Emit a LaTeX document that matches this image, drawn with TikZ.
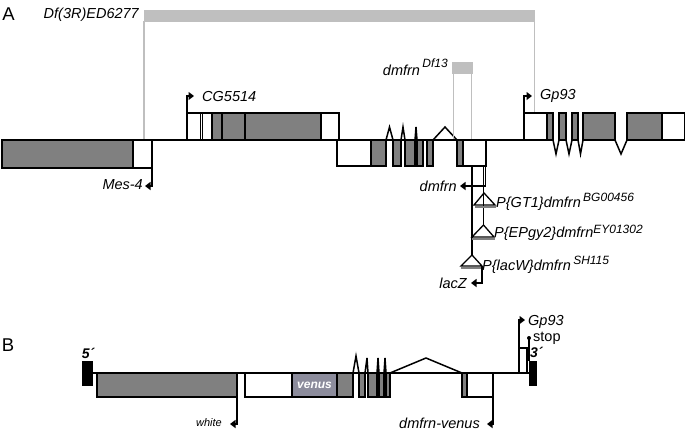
\documentclass[tikz,border=0pt]{standalone}
\usepackage{fontspec}
\setmainfont{Liberation Sans}
\usepackage{xcolor}
\usetikzlibrary{arrows.meta}
\definecolor{exongray}{HTML}{808080}
\definecolor{dfgray}{HTML}{BFBFBF}
\definecolor{venusgray}{HTML}{8C8C9C}

\begin{document}
\begin{tikzpicture}[x=1pt,y=-1pt,line join=miter,
    every node/.style={font=\itshape\fontsize{14.5}{16}\selectfont,inner sep=0pt},
    exon/.style={draw,fill=exongray,line width=1.4pt},
    utr/.style={draw,fill=white,line width=1.4pt},
    intron/.style={line width=1.5pt},
    dfline/.style={draw=dfgray,line width=1.8pt},
    tss/.style={line width=1.4pt,-{Triangle[length=5.5pt,width=8pt]}},
    ins/.style={line width=1.3pt},
    panel/.style={font=\fontsize{18.5}{20}\selectfont}]
    \useasboundingbox (0,0) rectangle (685,432);
    % A
    \node[panel] (pa) at (8.5,14) {A};
    \fill[dfgray] (144,10) rectangle (535,21.5);
    \draw[dfline] (144,21) -- (144,140);
    \draw[dfline] (534.5,21) -- (534.5,113);
    \node[anchor=east] (df) at (139,15) {Df(3R)ED6277};
    \draw[intron] (152,140) -- (524,140);
    \draw[exon] (2,140) rectangle (133,168);
    \draw[utr] (133,140) rectangle (152,168);
    \draw[tss] (152,168) -- (152,186) -- (145,186);
    \node[anchor=east] (mes) at (143,185) {Mes-4};
    \draw[utr] (187,113) rectangle (200.5,140);
    \draw[utr] (202.5,113) rectangle (212,140);
    \draw[exon] (212,113) rectangle (222,140);
    \draw[exon] (222,113) rectangle (245,140);
    \draw[exon] (245,113) rectangle (321,140);
    \draw[utr] (321,113) rectangle (339,140);
    \draw[line width=1.4pt] (200.5,113) -- (202.5,113);
    \draw[tss] (187,113) -- (187,96) -- (194,96);
    \node[anchor=west] (cg) at (202,97) {CG5514};
    \draw[utr] (337,140) rectangle (371,166);
    \draw[exon] (371,140) rectangle (386,166);
    \draw[intron] (386,140) -- (389.5,127) -- (393,140);
    \draw[exon] (393,140) rectangle (401,166);
    \draw[intron] (401,140) -- (403,127) -- (405,140);
    \draw[exon] (405,140) rectangle (415,166);
    \draw[intron] (415,140) -- (416,127) -- (417,140);
    \draw[exon] (417,140) rectangle (423,166);
    \draw[exon] (427,140) rectangle (433,166);
    \draw[intron] (433,140) -- (445,127) -- (457,140);
    \draw[exon] (457,140) rectangle (463,166);
    \draw[utr] (463,140) rectangle (486,166);
    \fill[dfgray] (452,62) rectangle (473,73.5);
    \draw[dfline] (453.5,73) -- (453.5,139);
    \draw[dfline] (471.5,73) -- (471.5,139);
    \node[anchor=east] (df13) at (448,67) {dmfrn\,\raisebox{8pt}{\fontsize{12}{12}\selectfont Df13}};
    \draw[utr] (524,113) rectangle (547,140);
    \draw[exon] (547,113) rectangle (553,140);
    \draw[intron] (553,140) -- (556,154) -- (559,140);
    \draw[exon] (559,113) rectangle (566,140);
    \draw[intron] (566,140) -- (569,154) -- (572,140);
    \draw[exon] (572,113) rectangle (578,140);
    \draw[intron] (578,140) -- (580.5,154) -- (583,140);
    \draw[exon] (583,113) rectangle (615,140);
    \draw[intron] (615,140) -- (621,154) -- (627,140);
    \draw[exon] (627,113) rectangle (662,140);
    \draw[utr] (662,113) rectangle (684.3,140);
    \draw[dfline] (534.5,100) -- (534.5,112);
    \draw[tss] (524,113) -- (524,96) -- (532,96);
    \node[anchor=west] (gp) at (540,96) {Gp93};
    \draw[tss] (485.5,166) -- (485.5,186) -- (460,186);
    \node[anchor=east] (dm) at (457,186) {dmfrn};
    \draw[ins] (472,166) -- (472,255);
    \draw[ins] (483.5,166) -- (483.5,225);
    \draw[exongray,line width=1.8pt] (475,206.8) -- (496,206.8);
    \draw[ins] (474,205) -- (484,193) -- (495,205) -- cycle;
    \node[anchor=west] (gt) at (496,202) {P\{GT1\}dmfrn\,\raisebox{6pt}{\fontsize{12}{12}\selectfont BG00456}};
    \draw[exongray,line width=1.8pt] (472,238.8) -- (495,238.8);
    \draw[ins] (472,237) -- (483.5,225) -- (494,237) -- cycle;
    \node[anchor=west] (ep) at (494,233) {P\{EPgy2\}dmfrn\raisebox{3.5pt}{\fontsize{12}{12}\selectfont EY01302}};
    \draw[exongray,line width=1.8pt] (461,267.8) -- (483,267.8);
    \draw[ins] (461,266) -- (472,255) -- (482,266) -- cycle;
    \node[anchor=west] (lw) at (482,265) {P\{lacW\}dmfrn\,\raisebox{6.5pt}{\fontsize{12}{12}\selectfont SH115}};
    \draw[tss] (482,266) -- (482,283) -- (471,283);
    \node[anchor=east] (lz) at (467,283) {lacZ};
    % B
    \node[panel] (pb) at (8,345.5) {B};
    \node[font=\bfseries\itshape\fontsize{14}{16}\selectfont] (five) at (88,353) {5´};
    \fill (82,361) rectangle (93,386);
    \draw[intron] (93,373) -- (529,373);
    \draw[exon] (97,373) rectangle (237,397);
    \draw[tss] (237,397) -- (237,424) -- (230,424);
    \node[anchor=east,font=\itshape\fontsize{11}{12}\selectfont] (wh) at (222,423) {white};
    \draw[utr] (245,373) rectangle (292,397);
    \draw[utr,fill=venusgray] (292,373) rectangle (337,397);
    \node[text=white,font=\bfseries\itshape\fontsize{12}{14}\selectfont] (ve) at (314.5,385) {venus};
    \draw[exon] (337,373) rectangle (353,397);
    \draw[intron] (353,373) -- (356,356) -- (359,373);
    \draw[exon] (359,373) rectangle (365,397);
    \draw[intron] (365,373) -- (367,358) -- (368,373);
    \draw[exon] (368,373) rectangle (377,397);
    \draw[intron] (377,373) -- (378,358) -- (379,373);
    \draw[exon] (379,373) rectangle (384,397);
    \draw[intron] (384,373) -- (385,358) -- (386,373);
    \draw[exon] (386,373) rectangle (390,397);
    \draw[intron] (390,373) -- (426,358) -- (462,373);
    \draw[exon] (462,373) rectangle (467,397);
    \draw[utr] (467,373) rectangle (493,397);
    \draw[tss] (493,397) -- (493,424) -- (487,424);
    \node[anchor=east] (dv) at (480,423) {dmfrn-venus};
    \draw[utr] (519,348) rectangle (527,373);
    \draw[tss] (519,348) -- (519,320) -- (525,320);
    \node[anchor=west] (gpb) at (528,322) {Gp93};
    \fill (529,338) circle (2);
    \draw[line width=1.4pt] (529,338) -- (529,361);
    \node[anchor=west,font=\fontsize{14.5}{16}\selectfont] (st) at (533,338) {stop};
    \node[anchor=west,font=\bfseries\itshape\fontsize{14}{16}\selectfont] (three) at (530,352) {3´};
    \fill (529,361) rectangle (537,386);
  \end{tikzpicture}
\end{document}
